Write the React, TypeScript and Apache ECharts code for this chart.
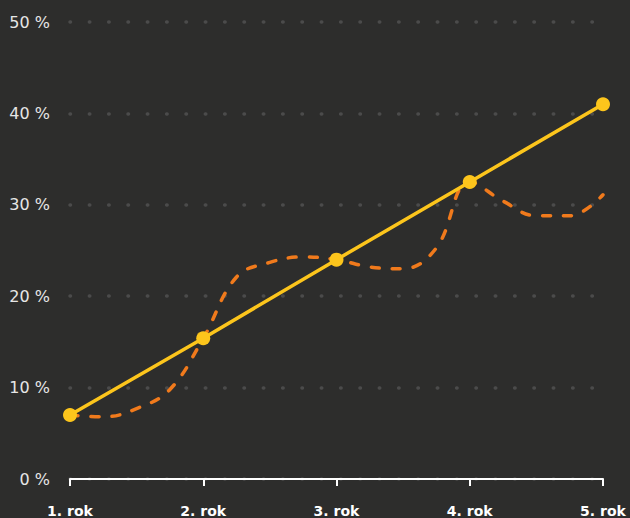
import React, { useEffect, useRef } from "react";
import * as echarts from "echarts";

const years = [1, 2, 3, 4, 5];
const yellowValues = [7, 15.4, 24, 32.5, 41];
const orangeX = [1, 1.25, 1.5, 1.75, 2, 2.25, 2.5, 2.75, 3, 3.25, 3.5, 3.75, 4, 4.25, 4.5, 4.75, 5];
const orangeValues = [7, 6.8, 7.7, 9.8, 15.4, 22.1, 23.7, 24.3, 24.0, 23.2, 23.0, 25.3, 32.5, 30.4, 28.8, 28.8, 31.1];
const yTicks = { min: 0, max: 50, interval: 10 };

export default function App() {
  const ref = useRef<HTMLDivElement>(null);
  useEffect(() => {
    document.body.style.margin = "0";
    const chart = echarts.init(ref.current!, null, { renderer: "svg" });
    chart.setOption({
      animation: false,
      backgroundColor: "#2d2d2c",
      grid: { left: 70, right: 27, top: 22, bottom: 39 },
      xAxis: {
        type: "value",
        min: 1,
        max: 5,
        interval: 1,
        axisLine: { show: true, lineStyle: { color: "#ffffff", width: 2 } },
        axisTick: { show: true, length: 7, lineStyle: { color: "#ffffff", width: 2 } },
        splitLine: { show: false },
        axisLabel: {
          formatter: (v: number) => `${v}. rok`,
          color: "#ffffff",
          fontSize: 14,
          fontWeight: "bold",
          fontFamily: "DejaVu Sans",
          margin: 25,
        },
      },
      yAxis: {
        type: "value",
        min: yTicks.min,
        max: yTicks.max,
        interval: yTicks.interval,
        axisLine: { show: false },
        axisTick: { show: false },
        axisLabel: {
          formatter: "{value} %",
          color: "#e6e6e6",
          fontSize: 16,
          fontFamily: "DejaVu Sans",
          margin: 20,
        },
        splitLine: {
          show: true,
          lineStyle: { color: "#4b4b4b", width: 3.5, type: [0.5, 18.83], cap: "round" },
        },
      },
      series: [
        {
          type: "line",
          data: orangeX.map((x, i) => [x, orangeValues[i]]),
          smooth: 0.4,
          showSymbol: false,
          lineStyle: { color: "#f07a1c", width: 3.5, type: [8, 13], cap: "round" },
          z: 2,
        },
        {
          type: "line",
          data: years.map((x, i) => [x, yellowValues[i]]),
          symbol: "circle",
          symbolSize: 14,
          itemStyle: { color: "#fcc51c" },
          lineStyle: { color: "#fcc51c", width: 3.5 },
          z: 3,
        },
      ],
    });
    return () => chart.dispose();
  }, []);
  return <div ref={ref} style={{ width: 630, height: 518 }} />;
}
